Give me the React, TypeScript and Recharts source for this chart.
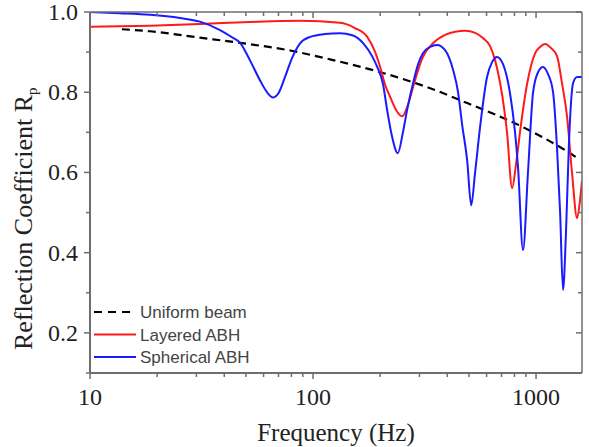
import { LineChart, Line, XAxis, YAxis, Legend, Label } from 'recharts';

// Reflection coefficient vs frequency (Hz)
const UNIFORM_F = [13.9, 18.6, 31.1, 47.1, 78.9, 119, 206, 335, 491, 874, 1420, 1542];
const UNIFORM_R = [0.957, 0.952, 0.936, 0.923, 0.904, 0.882, 0.848, 0.81, 0.773, 0.713, 0.648, 0.635];

const LAYERED_F = [10, 18.6, 31.1, 52.1, 87.5, 132, 154, 175, 190, 200, 210, 221, 236, 251, 267, 281, 296, 311, 345, 391, 434, 481, 533, 578, 622, 655, 690, 719, 741, 781, 813, 847, 911, 990, 1042, 1097, 1167, 1242, 1309, 1377, 1449, 1528, 1574, 1607];
const LAYERED_R = [0.963, 0.966, 0.97, 0.975, 0.978, 0.973, 0.96, 0.938, 0.9, 0.863, 0.82, 0.79, 0.755, 0.74, 0.77, 0.813, 0.855, 0.888, 0.922, 0.943, 0.951, 0.953, 0.948, 0.935, 0.915, 0.88, 0.823, 0.76, 0.7, 0.561, 0.62, 0.7, 0.82, 0.897, 0.913, 0.92, 0.91, 0.89, 0.82, 0.74, 0.6, 0.486, 0.53, 0.58];

const SPHERICAL_F = [10, 13.6, 18.6, 25.3, 31.1, 38.3, 43.3, 47.1, 52.1, 57.8, 62.2, 66.2, 70.4, 74.9, 80.5, 87.5, 97, 113, 132, 150, 168, 184, 194, 206, 215, 226, 240, 253, 264, 281, 296, 311, 335, 360, 391, 425, 447, 466, 491, 512, 533, 561, 603, 635, 668, 711, 764, 805, 830, 874, 920, 970, 1021, 1074, 1132, 1192, 1242, 1282, 1321, 1362, 1406, 1466, 1528, 1607];
const SPHERICAL_R = [1.0, 0.997, 0.993, 0.985, 0.976, 0.955, 0.937, 0.923, 0.88, 0.83, 0.8, 0.787, 0.8, 0.838, 0.885, 0.922, 0.938, 0.945, 0.947, 0.942, 0.922, 0.89, 0.863, 0.82, 0.755, 0.69, 0.648, 0.7, 0.755, 0.823, 0.87, 0.897, 0.913, 0.918, 0.905, 0.855, 0.8, 0.72, 0.63, 0.518, 0.6, 0.713, 0.838, 0.875, 0.888, 0.87, 0.798, 0.7, 0.614, 0.406, 0.6, 0.8, 0.85, 0.863, 0.845, 0.8, 0.66, 0.5, 0.307, 0.45, 0.68, 0.823, 0.838, 0.838];

const X_TICKS = [10, 20, 30, 40, 50, 60, 70, 80, 90, 100, 200, 300, 400, 500, 600, 700, 800, 900, 1000];
const X_LABELED = [10, 100, 1000];
const Y_TICKS = [0.1, 0.2, 0.3, 0.4, 0.5, 0.6, 0.7, 0.8, 0.9, 1.0];
const Y_LABELED = [0.2, 0.4, 0.6, 0.8, 1.0];

const SERIES = [
  { name: 'Uniform beam', color: '#000000', dash: '8 5' },
  { name: 'Layered ABH', color: '#ff1a1a', dash: undefined },
  { name: 'Spherical ABH', color: '#1a1aff', dash: undefined },
];

const toPoints = (f: number[], r: number[]) => f.map((v, i) => ({ f: v, r: r[i] }));
const uniformData = toPoints(UNIFORM_F, UNIFORM_R);
const layeredData = toPoints(LAYERED_F, LAYERED_R);
const sphericalData = toPoints(SPHERICAL_F, SPHERICAL_R);

const AXIS = '#6e6e6e';
const SERIF = '"Liberation Serif", "Times New Roman", serif';
const isLabeled = (list: number[], v: number) => list.some((t) => Math.abs(t - v) < 1e-9);

function BottomTick({ x, y, payload }: any) {
  const major = isLabeled(X_LABELED, payload.value);
  return (
    <g>
      <line x1={x} x2={x} y1={y} y2={y + (major ? 6 : 4)} stroke={AXIS} strokeWidth={1.5} />
      {major && (
        <text x={x} y={y + 32} textAnchor="middle" fontFamily={SERIF} fontSize={24} fill="#222">
          {payload.value}
        </text>
      )}
    </g>
  );
}

// mirrored frame ticks point into the plot
function TopTick({ x, y, payload }: any) {
  const major = isLabeled(X_LABELED, payload.value);
  return <line x1={x} x2={x} y1={y} y2={y + (major ? 6 : 4)} stroke={AXIS} strokeWidth={1.5} />;
}

function LeftTick({ x, y, payload }: any) {
  const major = isLabeled(Y_LABELED, payload.value);
  return (
    <g>
      <line x1={x - (major ? 6 : 4)} x2={x} y1={y} y2={y} stroke={AXIS} strokeWidth={1.5} />
      {major && (
        <text x={x - 12} y={y + 8} textAnchor="end" fontFamily={SERIF} fontSize={24} fill="#222">
          {payload.value.toFixed(1)}
        </text>
      )}
    </g>
  );
}

function RightTick({ x, y, payload }: any) {
  const major = isLabeled(Y_LABELED, payload.value);
  return <line x1={x - (major ? 6 : 4)} x2={x} y1={y} y2={y} stroke={AXIS} strokeWidth={1.5} />;
}

function YTitle() {
  return (
    <text x={32} y={350} transform="rotate(-90, 32, 350)" fontFamily={SERIF} fontSize={26} fill="#222">
      Reflection Coefficient R
      <tspan dy={5} fontSize={15}>p</tspan>
    </text>
  );
}

function XTitle() {
  return (
    <text x={336} y={441} textAnchor="middle" fontFamily={SERIF} fontSize={25} fill="#222">
      Frequency (Hz)
    </text>
  );
}

function LegendBox() {
  return (
    <svg width={220} height={70} style={{ display: 'block' }}>
      {SERIES.map((s, i) => {
        const cy = 12 + i * 22.5;
        return (
          <g key={s.name}>
            <line x1={0} x2={42} y1={cy} y2={cy} stroke={s.color} strokeWidth={2} strokeDasharray={s.dash ? '8 6' : undefined} />
            <text x={46} y={cy + 6} fontFamily='"Liberation Sans", Arial, sans-serif' fontSize={17} fill="#444">
              {s.name}
            </text>
          </g>
        );
      })}
    </svg>
  );
}

export default function App() {
  return (
    <div style={{ position: 'absolute', left: 0, top: 0, background: '#fff' }}>
      <LineChart width={589} height={447} margin={{ top: 11, right: 6, bottom: 0, left: 0 }}>
        <XAxis
          dataKey="f"
          type="number"
          scale="log"
          domain={[10, 1607]}
          allowDataOverflow
          ticks={X_TICKS}
          interval={0}
          tickSize={0}
          tickMargin={0}
          tickLine={false}
          tick={<BottomTick />}
          height={74}
          stroke={AXIS}
          strokeWidth={2}
        >
          <Label content={<XTitle />} />
        </XAxis>
        <XAxis
          xAxisId="top"
          orientation="top"
          dataKey="f"
          type="number"
          scale="log"
          domain={[10, 1607]}
          allowDataOverflow
          ticks={X_TICKS}
          interval={0}
          tickSize={0}
          tickMargin={0}
          tickLine={false}
          tick={<TopTick />}
          height={1}
          stroke={AXIS}
          strokeWidth={1.5}
        />
        <YAxis
          type="number"
          domain={[0.1, 1.0]}
          allowDataOverflow
          ticks={Y_TICKS}
          interval={0}
          tickSize={0}
          tickMargin={0}
          tickLine={false}
          tick={<LeftTick />}
          width={90}
          stroke={AXIS}
          strokeWidth={2}
        >
          <Label content={<YTitle />} />
        </YAxis>
        <YAxis
          yAxisId="right"
          orientation="right"
          type="number"
          domain={[0.1, 1.0]}
          allowDataOverflow
          ticks={Y_TICKS}
          interval={0}
          tickSize={0}
          tickMargin={0}
          tickLine={false}
          tick={<RightTick />}
          width={1}
          stroke={AXIS}
          strokeWidth={1.5}
        />
        <Legend
          layout="horizontal"
          verticalAlign="middle"
          align="center"
          content={<LegendBox />}
          wrapperStyle={{ left: 94, top: 300, width: 220, height: 70 }}
        />
        <Line data={uniformData} dataKey="r" name={SERIES[0].name} type="monotone" stroke={SERIES[0].color} strokeWidth={2.2} strokeDasharray={SERIES[0].dash} dot={false} isAnimationActive={false} />
        <Line data={layeredData} dataKey="r" name={SERIES[1].name} type="monotone" stroke={SERIES[1].color} strokeWidth={2} dot={false} isAnimationActive={false} />
        <Line data={sphericalData} dataKey="r" name={SERIES[2].name} type="monotone" stroke={SERIES[2].color} strokeWidth={2} dot={false} isAnimationActive={false} />
        <Line data={sphericalData} dataKey="r" xAxisId="top" yAxisId="right" stroke="none" dot={false} legendType="none" isAnimationActive={false} />
      </LineChart>
    </div>
  );
}
